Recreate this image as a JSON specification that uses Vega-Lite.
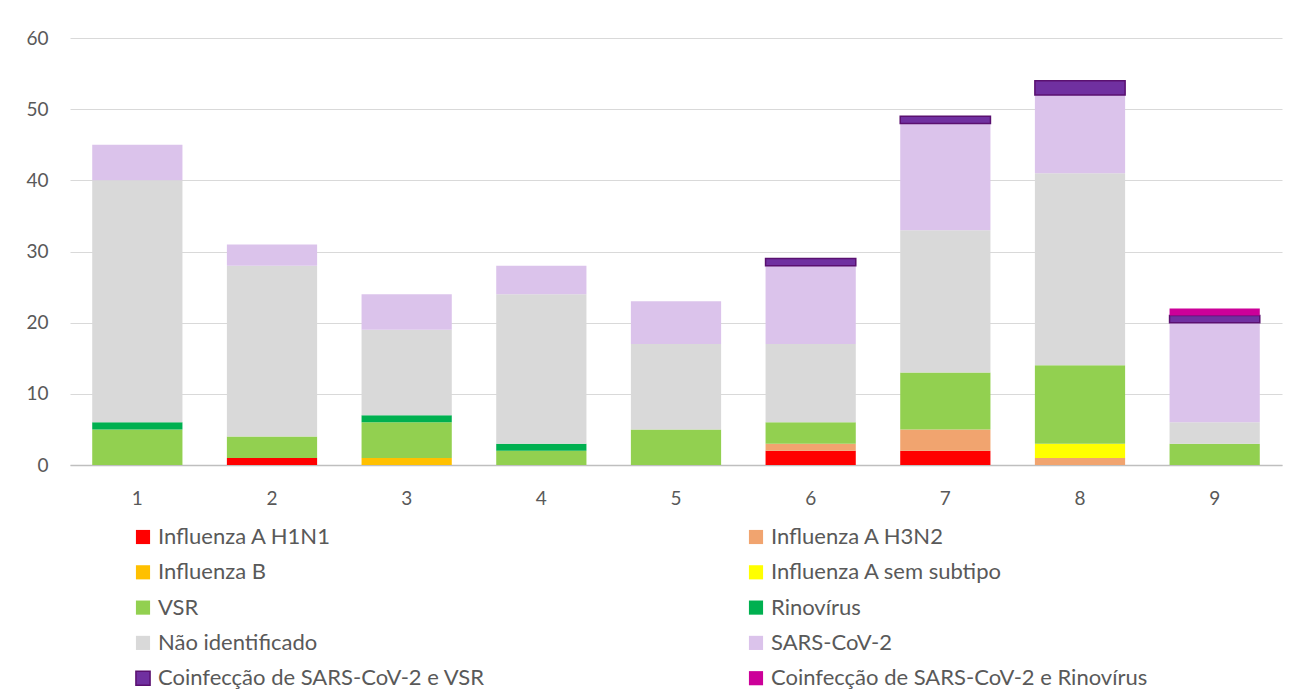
{
  "$schema": "https://vega.github.io/schema/vega-lite/v6.json",
  "width": 1212,
  "height": 427,
  "autosize": "none",
  "padding": {"left": 70, "top": 38, "right": 16, "bottom": 225},
  "background": "white",
  "config": {
    "font": "Lato",
    "view": {"stroke": null}
  },
  "data": {
    "values": [
      {"semana": "1", "serie": "VSR", "n": 5},
      {"semana": "1", "serie": "Rinovírus", "n": 1},
      {"semana": "1", "serie": "Não identificado", "n": 34},
      {"semana": "1", "serie": "SARS-CoV-2", "n": 5},
      {"semana": "2", "serie": "Influenza A H1N1", "n": 1},
      {"semana": "2", "serie": "VSR", "n": 3},
      {"semana": "2", "serie": "Não identificado", "n": 24},
      {"semana": "2", "serie": "SARS-CoV-2", "n": 3},
      {"semana": "3", "serie": "Influenza B", "n": 1},
      {"semana": "3", "serie": "VSR", "n": 5},
      {"semana": "3", "serie": "Rinovírus", "n": 1},
      {"semana": "3", "serie": "Não identificado", "n": 12},
      {"semana": "3", "serie": "SARS-CoV-2", "n": 5},
      {"semana": "4", "serie": "VSR", "n": 2},
      {"semana": "4", "serie": "Rinovírus", "n": 1},
      {"semana": "4", "serie": "Não identificado", "n": 21},
      {"semana": "4", "serie": "SARS-CoV-2", "n": 4},
      {"semana": "5", "serie": "VSR", "n": 5},
      {"semana": "5", "serie": "Não identificado", "n": 12},
      {"semana": "5", "serie": "SARS-CoV-2", "n": 6},
      {"semana": "6", "serie": "Influenza A H1N1", "n": 2},
      {"semana": "6", "serie": "Influenza A H3N2", "n": 1},
      {"semana": "6", "serie": "VSR", "n": 3},
      {"semana": "6", "serie": "Não identificado", "n": 11},
      {"semana": "6", "serie": "SARS-CoV-2", "n": 11},
      {"semana": "6", "serie": "Coinfecção de SARS-CoV-2 e VSR", "n": 1},
      {"semana": "7", "serie": "Influenza A H1N1", "n": 2},
      {"semana": "7", "serie": "Influenza A H3N2", "n": 3},
      {"semana": "7", "serie": "VSR", "n": 8},
      {"semana": "7", "serie": "Não identificado", "n": 20},
      {"semana": "7", "serie": "SARS-CoV-2", "n": 15},
      {"semana": "7", "serie": "Coinfecção de SARS-CoV-2 e VSR", "n": 1},
      {"semana": "8", "serie": "Influenza A H3N2", "n": 1},
      {"semana": "8", "serie": "Influenza A sem subtipo", "n": 2},
      {"semana": "8", "serie": "VSR", "n": 11},
      {"semana": "8", "serie": "Não identificado", "n": 27},
      {"semana": "8", "serie": "SARS-CoV-2", "n": 11},
      {"semana": "8", "serie": "Coinfecção de SARS-CoV-2 e VSR", "n": 2},
      {"semana": "9", "serie": "VSR", "n": 3},
      {"semana": "9", "serie": "Não identificado", "n": 3},
      {"semana": "9", "serie": "SARS-CoV-2", "n": 14},
      {"semana": "9", "serie": "Coinfecção de SARS-CoV-2 e VSR", "n": 1},
      {"semana": "9", "serie": "Coinfecção de SARS-CoV-2 e Rinovírus", "n": 1}
    ]
  },
  "transform": [
    {"calculate": "indexof(['Influenza A H1N1', 'Influenza A H3N2', 'Influenza B', 'Influenza A sem subtipo', 'VSR', 'Rinovírus', 'Não identificado', 'SARS-CoV-2', 'Coinfecção de SARS-CoV-2 e VSR', 'Coinfecção de SARS-CoV-2 e Rinovírus'], datum.serie)", "as": "ordem"}
  ],
  "mark": {"type": "bar", "strokeWidth": 1.5},
  "encoding": {
    "x": {
      "field": "semana",
      "type": "ordinal",
      "scale": {"paddingInner": 0.33, "paddingOuter": 0.165},
      "axis": {
        "title": null,
        "labelAngle": 0,
        "labelFontSize": 19,
        "labelColor": "#595959",
        "labelPadding": 24,
        "ticks": false,
        "domainColor": "#BFBFBF",
        "domainWidth": 1.5
      }
    },
    "y": {
      "field": "n",
      "type": "quantitative",
      "stack": "zero",
      "scale": {"domain": [0, 60]},
      "axis": {
        "title": null,
        "values": [0, 10, 20, 30, 40, 50, 60],
        "labelFontSize": 19,
        "labelColor": "#595959",
        "labelPadding": 22,
        "ticks": false,
        "domain": false,
        "gridColor": "#D9D9D9",
        "gridWidth": 1
      }
    },
    "order": {"field": "ordem", "type": "quantitative", "sort": "ascending"},
    "color": {
      "field": "serie",
      "type": "nominal",
      "scale": {
        "domain": ["Influenza A H1N1", "Influenza B", "VSR", "Não identificado", "Coinfecção de SARS-CoV-2 e VSR", "Influenza A H3N2", "Influenza A sem subtipo", "Rinovírus", "SARS-CoV-2", "Coinfecção de SARS-CoV-2 e Rinovírus"],
        "range": ["#FF0000", "#FFC000", "#92D050", "#D9D9D9", "#7030A0", "#F1A46F", "#FFFF00", "#00B050", "#DBC3EB", "#CC0099"]
      },
      "legend": {
        "title": null,
        "orient": "none",
        "legendX": 62,
        "legendY": 488,
        "columns": 2,
        "columnPadding": 260,
        "rowPadding": 13.3,
        "symbolType": "square",
        "symbolSize": 200,
        "symbolOpacity": 1,
        "labelFontSize": 22,
        "labelColor": "#595959",
        "labelOffset": 4,
        "labelLimit": 600
      }
    },
    "stroke": {
      "field": "serie",
      "type": "nominal",
      "scale": {
        "domain": ["Influenza A H1N1", "Influenza B", "VSR", "Não identificado", "Coinfecção de SARS-CoV-2 e VSR", "Influenza A H3N2", "Influenza A sem subtipo", "Rinovírus", "SARS-CoV-2", "Coinfecção de SARS-CoV-2 e Rinovírus"],
        "range": ["transparent", "transparent", "transparent", "transparent", "#5A1070", "transparent", "transparent", "transparent", "transparent", "transparent"]
      },
      "legend": null
    }
  }
}
